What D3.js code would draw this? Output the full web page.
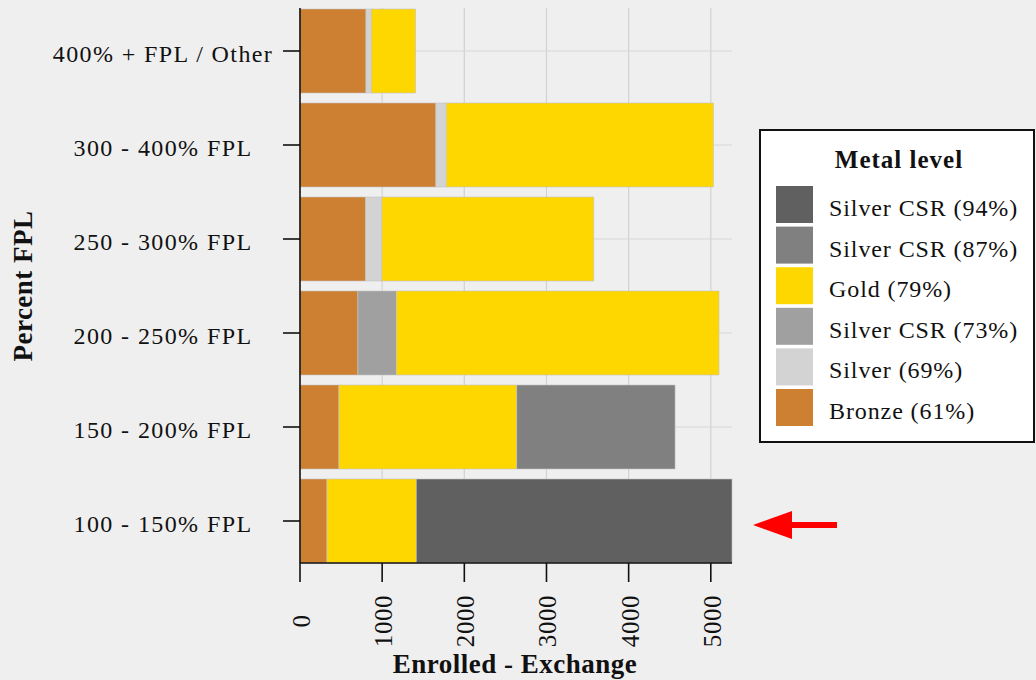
<!DOCTYPE html>
<html>
<head>
<meta charset="utf-8">
<script src="https://cdn.jsdelivr.net/npm/d3@7"></script>
<style>
  html, body { margin: 0; padding: 0; background: #efefef; }
  svg { display: block; }
  text { font-family: "Liberation Serif", "DejaVu Serif", serif; fill: #111; }
</style>
</head>
<body>
<script>
// ---- data ----
const categories = ["400% + FPL / Other", "300 - 400% FPL", "250 - 300% FPL", "200 - 250% FPL", "150 - 200% FPL", "100 - 150% FPL"];
const seriesNames = ["Bronze (61%)", "Silver (69%)", "Silver CSR (73%)", "Gold (79%)", "Silver CSR (87%)", "Silver CSR (94%)"];
const seriesColors = ["#cd7f32", "#d3d3d3", "#a0a0a0", "#ffd700", "#808080", "#606060"];
const bronze  = [803, 1654, 800, 705, 474, 328];
const silver69 = [64, 126, 197, 0, 0, 0];
const csr73   = [0, 0, 0, 467, 0, 0];
const gold    = [540, 3251, 2579, 3928, 2165, 1087];
const csr87   = [0, 0, 0, 0, 1926, 0];
const csr94   = [0, 0, 0, 0, 0, 3843];
const xTicks = [0, 1000, 2000, 3000, 4000, 5000];
const xTitle = "Enrolled - Exchange";
const yTitle = "Percent FPL";
const legendTitle = "Metal level";

const seriesValues = [bronze, silver69, csr73, gold, csr87, csr94];
const rows = categories.map((c, i) => {
  const r = { cat: c };
  seriesNames.forEach((s, j) => r[s] = seriesValues[j][i]);
  return r;
});
const stacked = d3.stack().keys(seriesNames)(rows);
const totals = rows.map(r => d3.sum(seriesNames, s => r[s]));

const W = 1036, H = 680;
const svg = d3.select("body").append("svg").attr("width", W).attr("height", H);
svg.append("rect").attr("width", W).attr("height", H).attr("fill", "#efefef");

const x = d3.scaleLinear().domain([0, d3.max(totals)]).range([300, 732]);
const y = d3.scaleBand().domain(categories).range([4, 568]).paddingInner(0.1064).paddingOuter(0.0532);
const plotTop = 8, plotBottom = 563;

// grid
const grid = svg.append("g");
grid.selectAll("line.v").data(xTicks.filter(t => t > 0)).join("line")
  .attr("x1", d => x(d)).attr("x2", d => x(d))
  .attr("y1", plotTop).attr("y2", plotBottom)
  .attr("stroke", "#d2d2d2").attr("stroke-width", 1.2);
grid.selectAll("line.h").data(categories).join("line")
  .attr("x1", x(0)).attr("x2", x.range()[1])
  .attr("y1", d => y(d) + y.bandwidth() / 2).attr("y2", d => y(d) + y.bandwidth() / 2)
  .attr("stroke", "#d8d8d8").attr("stroke-width", 1.2);

// bars
svg.append("g").selectAll("g").data(stacked).join("g")
  .attr("fill", (d, i) => seriesColors[i])
  .selectAll("rect").data(d => d.filter(p => p[1] - p[0] > 0)).join("rect")
  .attr("x", d => x(d[0]))
  .attr("width", d => x(d[1]) - x(d[0]))
  .attr("y", d => y(d.data.cat))
  .attr("height", y.bandwidth())
  .attr("stroke", "#c4c4c4").attr("stroke-width", 0.6);

// axes lines
const ax = svg.append("g").attr("stroke", "#111").attr("stroke-width", 1.6);
ax.append("line").attr("x1", x(0)).attr("x2", x(0)).attr("y1", plotTop).attr("y2", plotBottom);
ax.append("line").attr("x1", x(0)).attr("x2", x.range()[1]).attr("y1", plotBottom).attr("y2", plotBottom);
ax.selectAll("line.xt").data(xTicks).join("line")
  .attr("x1", d => x(d)).attr("x2", d => x(d)).attr("y1", plotBottom).attr("y2", plotBottom + 19);
ax.selectAll("line.yt").data(categories).join("line")
  .attr("x1", 283).attr("x2", x(0))
  .attr("y1", d => y(d) + y.bandwidth() / 2).attr("y2", d => y(d) + y.bandwidth() / 2);

// y tick labels (centered)
svg.append("g").selectAll("text").data(categories).join("text")
  .attr("x", 163).attr("y", d => y(d) + y.bandwidth() / 2 + 11)
  .attr("text-anchor", "middle")
  .style("font-size", "24px").style("letter-spacing", "1.4px")
  .text(d => d);

// x tick labels rotated
svg.append("g").selectAll("text").data(xTicks).join("text")
  .attr("transform", d => `translate(${x(d) + 10},621) rotate(-90)`)
  .attr("text-anchor", "middle")
  .style("font-size", "25px").style("letter-spacing", "0.6px")
  .text(d => d);

// axis titles
svg.append("text").attr("x", 515).attr("y", 673).attr("text-anchor", "middle")
  .style("font-size", "27px").style("font-weight", "bold").style("letter-spacing", "0.5px")
  .text(xTitle);
svg.append("text").attr("transform", "translate(32,286) rotate(-90)").attr("text-anchor", "middle")
  .style("font-size", "27px").style("font-weight", "bold").style("letter-spacing", "0.5px")
  .text(yTitle);

// legend
const lg = svg.append("g");
lg.append("rect").attr("x", 760).attr("y", 130).attr("width", 274).attr("height", 312)
  .attr("fill", "#ffffff").attr("stroke", "#111").attr("stroke-width", 2);
lg.append("text").attr("x", 899).attr("y", 168).attr("text-anchor", "middle")
  .style("font-size", "25px").style("font-weight", "bold").style("letter-spacing", "1px")
  .text(legendTitle);
const legendOrder = seriesNames.map((s, i) => i).reverse();
lg.selectAll("g.item").data(legendOrder).join("g")
  .attr("transform", (d, k) => `translate(776,${186 + k * 40.6})`)
  .each(function(i) {
    const g = d3.select(this);
    g.append("rect").attr("width", 37).attr("height", 37).attr("fill", seriesColors[i]);
    g.append("text").attr("x", 53).attr("y", 30)
      .style("font-size", "24px").style("letter-spacing", "0.9px")
      .text(seriesNames[i]);
  });

// red arrow
const ar = svg.append("g").attr("fill", "#ff0000");
ar.append("rect").attr("x", 790).attr("y", 522).attr("width", 47).attr("height", 6);
ar.append("path").attr("d", "M753,525 L792,511 L792,539 Z");
</script>
</body>
</html>
